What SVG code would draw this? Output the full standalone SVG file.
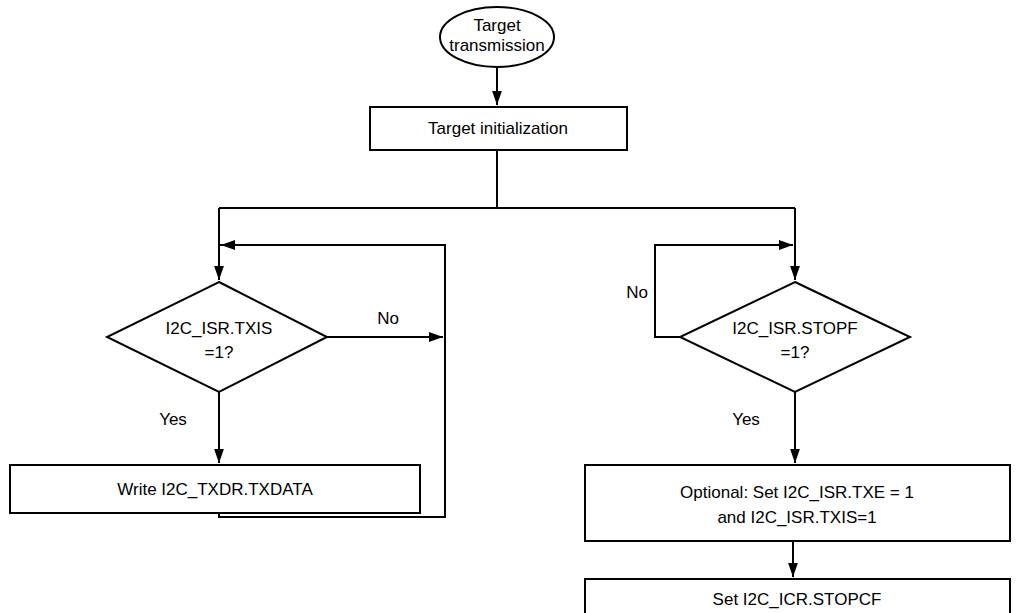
<svg xmlns="http://www.w3.org/2000/svg" width="1023" height="613" viewBox="0 0 1023 613">
<style>
.s{fill:#fff;stroke:#000;stroke-width:2}
.l{fill:none;stroke:#000;stroke-width:2}
text{font-family:"Liberation Sans",Arial,sans-serif;font-size:17px;fill:#000;text-anchor:middle}
</style>
<defs><marker id="b" viewBox="0 0 10 10" refX="10" refY="5" markerWidth="14" markerHeight="14" markerUnits="userSpaceOnUse" orient="auto"><path d="M0,1.5L10,5L0,8.5z"/></marker></defs>
<rect width="1023" height="613" fill="#fff"/>
<g id="connectors" class="l">
<path d="M497,67V105" marker-end="url(#b)"/>
<path d="M497,150V208M219,208H795"/>
<path d="M219,208V280" marker-end="url(#b)"/>
<path d="M219,245H445V517H219V513"/>
<path d="M445,245H221" marker-end="url(#b)"/>
<path d="M327,337H443" marker-end="url(#b)"/>
<path d="M219,392V463" marker-end="url(#b)"/>
<path d="M795,208V280" marker-end="url(#b)"/>
<path d="M680,337H655V245H793" marker-end="url(#b)"/>
<path d="M795,392V463" marker-end="url(#b)"/>
<path d="M793,541V577" marker-end="url(#b)"/>
</g>
<g id="start"><ellipse class="s" cx="497" cy="37" rx="57" ry="30"/><text x="497" y="31">Target</text><text x="497" y="51">transmission</text></g>
<g id="init"><rect class="s" x="370" y="107" width="257" height="43"/><text x="498" y="134">Target initialization</text></g>
<g id="d1"><path class="s" d="M219,282L327,337L219,392L107,337Z"/><text x="219" y="334">I2C_ISR.TXIS</text><text x="219" y="358">=1?</text></g>
<text x="388" y="324">No</text><text x="173" y="425">Yes</text>
<g id="write"><rect class="s" x="10" y="465" width="410" height="48"/><text x="215" y="495">Write I2C_TXDR.TXDATA</text></g>
<g id="d2"><path class="s" d="M795,282L910,337L795,392L680,337Z"/><text x="795" y="334">I2C_ISR.STOPF</text><text x="795" y="358">=1?</text></g>
<text x="637" y="298">No</text><text x="746" y="425">Yes</text>
<g id="opt"><rect class="s" x="585" y="465" width="425" height="76"/><text x="797" y="498">Optional: Set I2C_ISR.TXE = 1</text><text x="797" y="523">and I2C_ISR.TXIS=1</text></g>
<g id="stop"><rect class="s" x="585" y="579" width="425" height="45"/><text x="797" y="605">Set I2C_ICR.STOPCF</text></g>
</svg>
